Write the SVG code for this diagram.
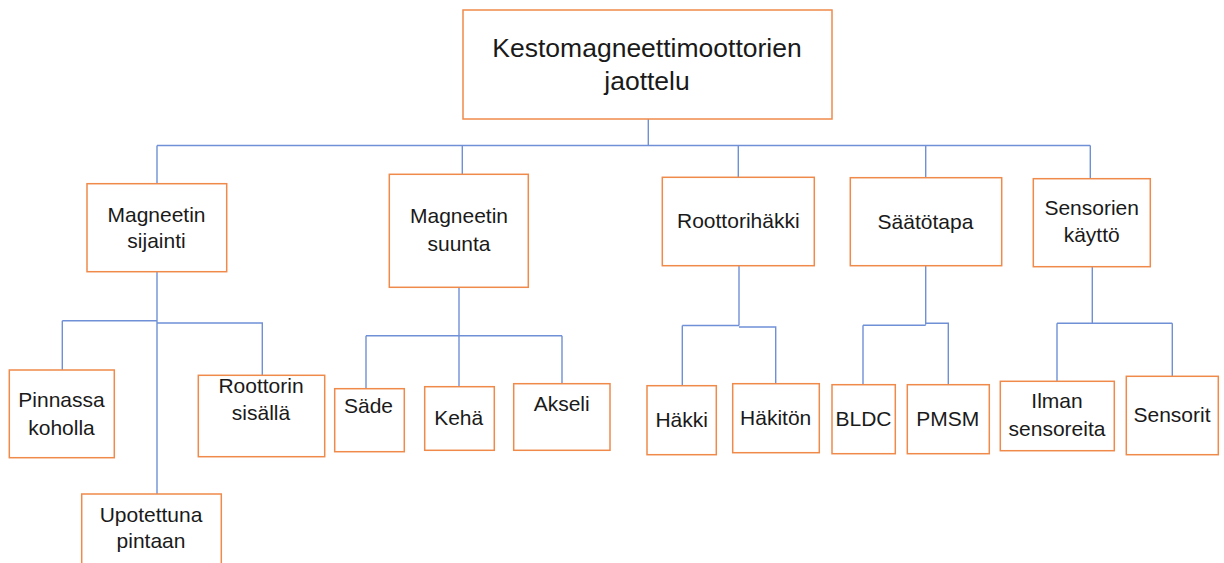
<svg xmlns="http://www.w3.org/2000/svg" width="1224" height="563" viewBox="0 0 1224 563">
<style>
.box{fill:#fff;stroke:#F08A4B;stroke-width:1.5}
.t{font-family:"Liberation Sans",Arial,sans-serif;font-size:21px;fill:#1a1a1a;text-anchor:middle}
.big{font-size:26.5px}
.c{fill:none;stroke:#6F90D6;stroke-width:1.4}
</style>
<rect width="1224" height="563" fill="#fff"/>
<g id="connectors">
<path class="c" d="M648.3,119 V145.5 M157,145.5 H1090.3 M157,145.5 V183.7 M462.3,145.5 V174.3 M738.3,145.5 V177.3 M925.7,145.5 V177.7 M1090.3,145.5 V178.7"/>
<path class="c" d="M157,271.7 V494 M62.3,320.7 H157 M62.3,320.7 V370 M157,323 H262.3 V375.3"/>
<path class="c" d="M459,287.3 V386.7 M366,335.7 H562 M366,335.7 V388.7 M562,335.7 V383.7"/>
<path class="c" d="M739,265.7 V325.5 M682.3,325.5 H739 M682.3,325.5 V385.7 M739,327 H775.7 V383.7"/>
<path class="c" d="M925.7,265.7 V324.5 M863,325.3 H925.7 M863,325.3 V384.7 M925.7,323.3 H948.3 V384.7"/>
<path class="c" d="M1092.3,266.7 V323.3 M1057,323.3 H1172.3 M1057,323.3 V381.3 M1172.3,323.3 V376.3"/>
</g>
<g id="root">
<rect class="box" x="463" y="10" width="369" height="109"/>
<text class="t big" x="647" y="57">Kestomagneettimoottorien</text>
<text class="t big" x="647" y="90">jaottelu</text>
</g>
<g id="magneetin-sijainti">
<rect class="box" x="87" y="183.7" width="139.7" height="88"/>
<text class="t" x="156.5" y="221.7">Magneetin</text>
<text class="t" x="156.5" y="248">sijainti</text>
</g>
<g id="magneetin-suunta">
<rect class="box" x="389.3" y="174.3" width="139" height="113"/>
<text class="t" x="459" y="223.3">Magneetin</text>
<text class="t" x="459" y="250.7">suunta</text>
</g>
<g id="roottorihakki">
<rect class="box" x="662.3" y="177.3" width="152" height="88.4"/>
<text class="t" x="738.3" y="228.3">Roottorihäkki</text>
</g>
<g id="saatotapa">
<rect class="box" x="850.3" y="177.7" width="151.4" height="88"/>
<text class="t" x="925.5" y="229.3">Säätötapa</text>
</g>
<g id="sensorien-kaytto">
<rect class="box" x="1033.3" y="178.7" width="117" height="88"/>
<text class="t" x="1091.7" y="215">Sensorien</text>
<text class="t" x="1091.7" y="241.7">käyttö</text>
</g>
<g id="pinnassa-koholla">
<rect class="box" x="9.3" y="370" width="105" height="87.7"/>
<text class="t" x="61.5" y="407.3">Pinnassa</text>
<text class="t" x="61.5" y="435">koholla</text>
</g>
<g id="roottorin-sisalla">
<rect class="box" x="198.3" y="375.3" width="126.4" height="81.4"/>
<text class="t" x="261" y="392.7">Roottorin</text>
<text class="t" x="261" y="420">sisällä</text>
</g>
<g id="upotettuna-pintaan">
<rect class="box" x="81.7" y="494" width="139.6" height="75"/>
<text class="t" x="151" y="522.3">Upotettuna</text>
<text class="t" x="151" y="548.3">pintaan</text>
</g>
<g id="sade">
<rect class="box" x="334.7" y="388.7" width="69.6" height="63"/>
<text class="t" x="368.5" y="413.3">Säde</text>
</g>
<g id="keha">
<rect class="box" x="424.7" y="386.7" width="69.6" height="63.6"/>
<text class="t" x="458.7" y="425">Kehä</text>
</g>
<g id="akseli">
<rect class="box" x="513.7" y="383.7" width="96.3" height="66.6"/>
<text class="t" x="561.7" y="410.7">Akseli</text>
</g>
<g id="hakki">
<rect class="box" x="647" y="385.7" width="69.3" height="69"/>
<text class="t" x="681.7" y="426.7">Häkki</text>
</g>
<g id="hakiton">
<rect class="box" x="732.7" y="383.7" width="86.6" height="69"/>
<text class="t" x="775.7" y="425">Häkitön</text>
</g>
<g id="bldc">
<rect class="box" x="832" y="384.7" width="63.3" height="69"/>
<text class="t" x="863.5" y="426">BLDC</text>
</g>
<g id="pmsm">
<rect class="box" x="907.3" y="384.7" width="82" height="69"/>
<text class="t" x="947.7" y="426">PMSM</text>
</g>
<g id="ilman-sensoreita">
<rect class="box" x="1000.3" y="381.3" width="114" height="69.4"/>
<text class="t" x="1057" y="408.3">Ilman</text>
<text class="t" x="1057" y="436">sensoreita</text>
</g>
<g id="sensorit">
<rect class="box" x="1126.3" y="376.3" width="92" height="78.4"/>
<text class="t" x="1172" y="421.7">Sensorit</text>
</g>
</svg>
